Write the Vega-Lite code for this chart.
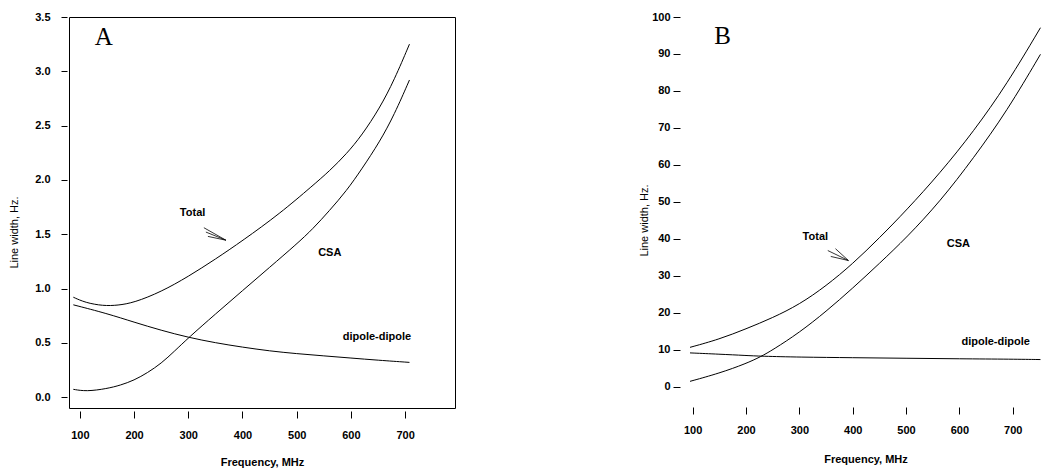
{
  "$schema": "https://vega.github.io/schema/vega-lite/v6.json",
  "background": "white",
  "padding": {"left": 8, "top": 10, "right": 0, "bottom": 0},
  "spacing": 182,
  "config": {
    "view": {"stroke": null},
    "font": "Liberation Sans",
    "axis": {"labelFont": "Liberation Sans", "titleFont": "Liberation Sans", "labelColor": "black", "titleColor": "black", "tickColor": "black", "domain": false, "grid": false, "labelFontWeight": "bold", "labelFontSize": 11, "titleFontSize": 11}
  },
  "datasets": {
    "a_curves": [
      {"f": 88, "v": 0.92, "s": "Total"}, {"f": 110, "v": 0.87, "s": "Total"}, {"f": 143, "v": 0.84, "s": "Total"}, {"f": 170, "v": 0.845, "s": "Total"}, {"f": 200, "v": 0.87, "s": "Total"}, {"f": 250, "v": 0.97, "s": "Total"}, {"f": 300, "v": 1.11, "s": "Total"}, {"f": 350, "v": 1.27, "s": "Total"}, {"f": 400, "v": 1.44, "s": "Total"}, {"f": 469, "v": 1.69, "s": "Total"}, {"f": 530, "v": 1.95, "s": "Total"}, {"f": 560, "v": 2.08, "s": "Total"}, {"f": 592, "v": 2.24, "s": "Total"}, {"f": 620, "v": 2.41, "s": "Total"}, {"f": 653, "v": 2.66, "s": "Total"}, {"f": 680, "v": 2.92, "s": "Total"}, {"f": 708, "v": 3.25, "s": "Total"},
      {"f": 88, "v": 0.072, "s": "CSA"}, {"f": 112, "v": 0.052, "s": "CSA"}, {"f": 150, "v": 0.078, "s": "CSA"}, {"f": 175, "v": 0.11, "s": "CSA"}, {"f": 200, "v": 0.155, "s": "CSA"}, {"f": 225, "v": 0.225, "s": "CSA"}, {"f": 250, "v": 0.31, "s": "CSA"}, {"f": 275, "v": 0.425, "s": "CSA"}, {"f": 300, "v": 0.545, "s": "CSA"}, {"f": 350, "v": 0.765, "s": "CSA"}, {"f": 400, "v": 0.98, "s": "CSA"}, {"f": 450, "v": 1.195, "s": "CSA"}, {"f": 500, "v": 1.41, "s": "CSA"}, {"f": 530, "v": 1.55, "s": "CSA"}, {"f": 560, "v": 1.715, "s": "CSA"}, {"f": 592, "v": 1.9, "s": "CSA"}, {"f": 620, "v": 2.1, "s": "CSA"}, {"f": 653, "v": 2.35, "s": "CSA"}, {"f": 680, "v": 2.6, "s": "CSA"}, {"f": 708, "v": 2.92, "s": "CSA"},
      {"f": 88, "v": 0.85, "s": "dipole-dipole"}, {"f": 150, "v": 0.77, "s": "dipole-dipole"}, {"f": 200, "v": 0.69, "s": "dipole-dipole"}, {"f": 250, "v": 0.615, "s": "dipole-dipole"}, {"f": 300, "v": 0.55, "s": "dipole-dipole"}, {"f": 350, "v": 0.5, "s": "dipole-dipole"}, {"f": 400, "v": 0.46, "s": "dipole-dipole"}, {"f": 450, "v": 0.425, "s": "dipole-dipole"}, {"f": 500, "v": 0.4, "s": "dipole-dipole"}, {"f": 550, "v": 0.38, "s": "dipole-dipole"}, {"f": 600, "v": 0.36, "s": "dipole-dipole"}, {"f": 650, "v": 0.34, "s": "dipole-dipole"}, {"f": 708, "v": 0.32, "s": "dipole-dipole"}
    ],
    "b_curves": [
      {"f": 95, "v": 10.6, "s": "Total"}, {"f": 150, "v": 12.8, "s": "Total"}, {"f": 200, "v": 15.6, "s": "Total"}, {"f": 250, "v": 18.6, "s": "Total"}, {"f": 300, "v": 22.2, "s": "Total"}, {"f": 350, "v": 27.2, "s": "Total"}, {"f": 400, "v": 33.2, "s": "Total"}, {"f": 450, "v": 40.2, "s": "Total"}, {"f": 500, "v": 47.6, "s": "Total"}, {"f": 564, "v": 57.8, "s": "Total"}, {"f": 627, "v": 69.1, "s": "Total"}, {"f": 689, "v": 81.8, "s": "Total"}, {"f": 752, "v": 97.1, "s": "Total"},
      {"f": 95, "v": 1.4, "s": "CSA"}, {"f": 150, "v": 3.6, "s": "CSA"}, {"f": 200, "v": 6.2, "s": "CSA"}, {"f": 228, "v": 8.1, "s": "CSA"}, {"f": 250, "v": 9.9, "s": "CSA"}, {"f": 300, "v": 14.6, "s": "CSA"}, {"f": 350, "v": 20.3, "s": "CSA"}, {"f": 400, "v": 26.6, "s": "CSA"}, {"f": 450, "v": 33.3, "s": "CSA"}, {"f": 501, "v": 40.3, "s": "CSA"}, {"f": 564, "v": 50.1, "s": "CSA"}, {"f": 627, "v": 61.9, "s": "CSA"}, {"f": 689, "v": 74.5, "s": "CSA"}, {"f": 752, "v": 89.9, "s": "CSA"},
      {"f": 95, "v": 9.1, "s": "dipole-dipole"}, {"f": 150, "v": 8.75, "s": "dipole-dipole"}, {"f": 200, "v": 8.4, "s": "dipole-dipole"}, {"f": 228, "v": 8.2, "s": "dipole-dipole"}, {"f": 300, "v": 7.95, "s": "dipole-dipole"}, {"f": 400, "v": 7.8, "s": "dipole-dipole"}, {"f": 500, "v": 7.65, "s": "dipole-dipole"}, {"f": 600, "v": 7.5, "s": "dipole-dipole"}, {"f": 700, "v": 7.4, "s": "dipole-dipole"}, {"f": 752, "v": 7.3, "s": "dipole-dipole"}
    ],
    "a_labels": [
      {"f": 308, "v": 1.70, "t": "Total"}, {"f": 561, "v": 1.33, "t": "CSA"}, {"f": 648, "v": 0.55, "t": "dipole-dipole"}
    ],
    "b_labels": [
      {"f": 330, "v": 40.4, "t": "Total"}, {"f": 598, "v": 38.6, "t": "CSA"}, {"f": 668, "v": 12.0, "t": "dipole-dipole"}
    ],
    "a_arrow": [
      {"f": 328.8, "v": 1.56, "f2": 369.4, "v2": 1.445}, {"f": 332.5, "v": 1.52, "f2": 369.4, "v2": 1.445}, {"f": 336.2, "v": 1.48, "f2": 369.4, "v2": 1.445}
    ],
    "b_arrow": [
      {"f": 353.3, "v": 36.8, "f2": 392, "v2": 34.1}, {"f": 367.7, "v": 37.3, "f2": 392, "v2": 34.1}, {"f": 358.9, "v": 35.2, "f2": 392, "v2": 34.1}
    ],
    "a_panel": [{"f": 144, "v": 3.32, "t": "A"}],
    "b_panel": [{"f": 156, "v": 94.9, "t": "B"}]
  },
  "hconcat": [
    {
      "width": 386,
      "height": 391,
      "view": {"stroke": "black", "strokeWidth": 1},
      "encoding": {
        "x": {"type": "quantitative", "scale": {"domain": [80, 792], "nice": false, "zero": false},
              "axis": {"values": [100, 200, 300, 400, 500, 600, 700], "offset": 3, "tickSize": 7, "labelPadding": 11, "title": "Frequency, MHz", "titleFontWeight": "bold", "titlePadding": 16}},
        "y": {"type": "quantitative", "scale": {"domain": [-0.1, 3.5], "nice": false, "zero": false},
              "axis": {"values": [0, 0.5, 1, 1.5, 2, 2.5, 3, 3.5], "format": ".1f", "offset": 2, "tickSize": 6, "labelPadding": 11, "title": "Line width, Hz.", "titleFontWeight": "normal", "titlePadding": 15, "titleY": 215}}
      },
      "layer": [
        {"data": {"name": "a_curves"}, "mark": {"type": "line", "color": "black", "strokeWidth": 1, "interpolate": "basis"},
         "encoding": {"x": {"field": "f"}, "y": {"field": "v"}, "detail": {"field": "s"}}},
        {"data": {"name": "a_arrow"}, "mark": {"type": "rule", "color": "black", "strokeWidth": 0.8},
         "encoding": {"x": {"field": "f"}, "y": {"field": "v"}, "x2": {"field": "f2"}, "y2": {"field": "v2"}}},
        {"data": {"name": "a_labels"}, "mark": {"type": "text", "font": "Liberation Sans", "fontWeight": "bold", "fontSize": 11, "color": "black", "align": "center", "baseline": "middle"},
         "encoding": {"x": {"field": "f"}, "y": {"field": "v"}, "text": {"field": "t"}}},
        {"data": {"name": "a_panel"}, "mark": {"type": "text", "font": "Liberation Serif", "fontSize": 25, "color": "black", "align": "center", "baseline": "middle"},
         "encoding": {"x": {"field": "f"}, "y": {"field": "v"}, "text": {"field": "t"}}}
      ]
    },
    {
      "width": 367,
      "height": 388,
      "encoding": {
        "x": {"type": "quantitative", "scale": {"domain": [80, 768], "nice": false, "zero": false},
              "axis": {"values": [100, 200, 300, 400, 500, 600, 700], "offset": 2, "tickSize": 7, "labelPadding": 10, "title": "Frequency, MHz", "titleFontWeight": "bold", "titlePadding": 18}},
        "y": {"type": "quantitative", "scale": {"domain": [-5, 100], "nice": false, "zero": false},
              "axis": {"values": [0, 10, 20, 30, 40, 50, 60, 70, 80, 90, 100], "offset": 2, "tickSize": 7, "labelPadding": 3, "title": "Line width, Hz.", "titleFontWeight": "normal", "titlePadding": 2, "titleY": 203}}
      },
      "layer": [
        {"mark": {"type": "rule", "color": "black", "strokeWidth": 1}, "encoding": {"y": {"datum": 100}}},
        {"mark": {"type": "rule", "color": "black", "strokeWidth": 1}, "encoding": {"y": {"datum": -5}}},
        {"mark": {"type": "rule", "color": "black", "strokeWidth": 1}, "encoding": {"x": {"datum": 80}}},
        {"data": {"name": "b_curves"}, "mark": {"type": "line", "color": "black", "strokeWidth": 1, "interpolate": "basis"},
         "encoding": {"x": {"field": "f"}, "y": {"field": "v"}, "detail": {"field": "s"}}},
        {"data": {"name": "b_arrow"}, "mark": {"type": "rule", "color": "black", "strokeWidth": 0.8},
         "encoding": {"x": {"field": "f"}, "y": {"field": "v"}, "x2": {"field": "f2"}, "y2": {"field": "v2"}}},
        {"data": {"name": "b_labels"}, "mark": {"type": "text", "font": "Liberation Sans", "fontWeight": "bold", "fontSize": 11, "color": "black", "align": "center", "baseline": "middle"},
         "encoding": {"x": {"field": "f"}, "y": {"field": "v"}, "text": {"field": "t"}}},
        {"data": {"name": "b_panel"}, "mark": {"type": "text", "font": "Liberation Serif", "fontSize": 25, "color": "black", "align": "center", "baseline": "middle"},
         "encoding": {"x": {"field": "f"}, "y": {"field": "v"}, "text": {"field": "t"}}}
      ]
    }
  ]
}
